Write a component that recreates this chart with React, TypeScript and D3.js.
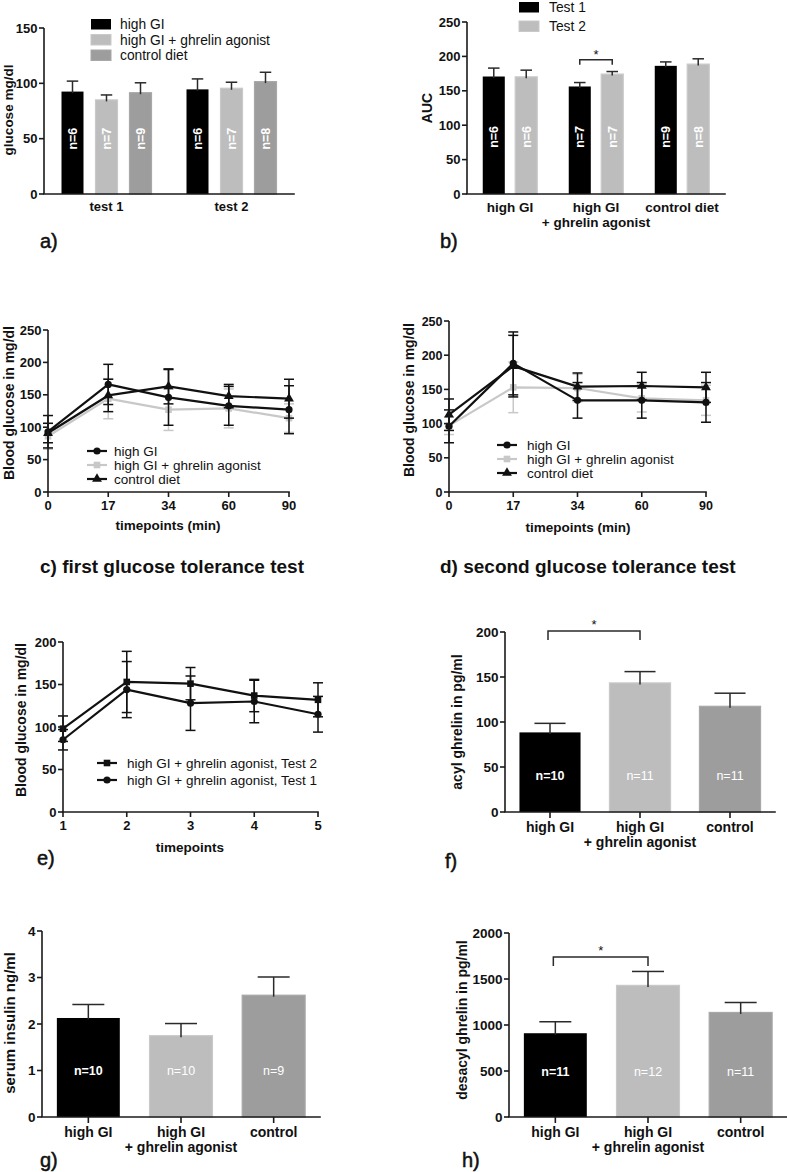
import React from "react";
import * as d3 from "d3";

const FONT = "'Liberation Sans', Arial, Helvetica, sans-serif";
const BLACK = "#000000";
const LIGHT = "#bdbdbd";
const MID = "#9d9d9d";
const LINE_GREY = "#c8c8c8";
const AXIS = "#1a1a1a";

// ---------- Panel a ----------
const aGroups = ["test 1", "test 2"];
const aSeries = ["high GI", "high GI + ghrelin agonist", "control diet"];
const aHighGI = [93, 95];
const aHighGIErr = [9, 9];
const aHighGIN = [6, 6];
const aAgonist = [85.5, 96];
const aAgonistErr = [4, 5];
const aAgonistN = [7, 7];
const aControl = [92, 102];
const aControlErr = [8.5, 8];
const aControlN = [9, 8];
const aTicks = [0, 50, 100, 150];

// ---------- Panel b ----------
const bCategories = [["high GI"], ["high GI", "+ ghrelin agonist"], ["control diet"]];
const bSeries = ["Test 1", "Test 2"];
const bTest1 = [171.5, 157, 187];
const bTest1Err = [11.5, 5, 5];
const bTest1N = [6, 7, 9];
const bTest2 = [171, 175, 189.5];
const bTest2Err = [9, 3, 7];
const bTest2N = [6, 7, 8];
const bTicks = [0, 50, 100, 150, 200, 250];

// ---------- Panels c, d ----------
const timepoints = ["0", "17", "34", "60", "90"];
const gttSeries = ["high GI", "high GI + ghrelin agonist", "control diet"];
const cHighGI = [93, 166, 146, 133, 127];
const cHighGIErr = [25, 31, 43, 30, 37];
const cAgonist = [86, 144, 127, 129, 114];
const cAgonistErr = [20, 31, 32, 30, 22];
const cControl = [91, 149, 163, 148, 144];
const cControlErr = [15, 25, 27, 18, 30];

const dHighGI = [96, 188, 134, 134, 131];
const dHighGIErr = [24, 46, 26, 26, 29];
const dAgonist = [97, 153, 152, 137, 134];
const dAgonistErr = [13, 37, 20, 20, 22];
const dControl = [113, 184, 154, 155, 153];
const dControlErr = [23, 45, 20, 20, 22];
const gttTicks = [0, 50, 100, 150, 200, 250];

// ---------- Panel e ----------
const eTimepoints = ["1", "2", "3", "4", "5"];
const eSeries = ["high GI + ghrelin agonist, Test 2", "high GI + ghrelin agonist, Test 1"];
const eTest2 = [98, 153, 151, 137, 132];
const eTest2Err = [15, 36, 19, 19, 20];
const eTest1 = [85, 144, 128, 130, 115];
const eTest1Err = [12, 33, 32, 25, 21];
const eTicks = [0, 50, 100, 150, 200];

// ---------- Panels f, g, h ----------
const fghCategories = [["high GI"], ["high GI", "+ ghrelin agonist"], ["control"]];
const fValues = [89, 144, 118];
const fErr = [9.5, 12, 14];
const fN = [10, 11, 11];
const fTicks = [0, 50, 100, 150, 200];

const gValues = [2.14, 1.76, 2.63];
const gErr = [0.28, 0.25, 0.38];
const gN = [10, 10, 9];
const gTicks = [0, 1, 2, 3, 4];

const hValues = [916, 1436, 1142];
const hErr = [120, 146, 102];
const hN = [11, 12, 11];
const hTicks = [0, 500, 1000, 1500, 2000];

const barFills = [BLACK, LIGHT, MID];
const barStroke = (fill: string) => (fill === LIGHT ? "#c9c9c9" : fill === MID ? "#a8a8a8" : "none");

// ---------- helpers ----------
function YAxis({ scale, x, ticks, fontSize }: any) {
  const [d0, d1] = scale.domain();
  return (
    <g>
      <line x1={x} x2={x} y1={scale(d0)} y2={scale(d1)} stroke={AXIS} strokeWidth={1.6} />
      {ticks.map((t: number) => (
        <g key={t}>
          <line x1={x - 5} x2={x} y1={scale(t)} y2={scale(t)} stroke={AXIS} strokeWidth={1.6} />
          <text x={x - 6.5} y={scale(t)} dy="0.36em" textAnchor="end" fontSize={fontSize} fontWeight="bold" fill="#111">
            {t}
          </text>
        </g>
      ))}
    </g>
  );
}

function XLine({ x1, x2, y }: any) {
  return <line x1={x1} x2={x2} y1={y} y2={y} stroke={AXIS} strokeWidth={1.6} strokeLinecap="square" />;
}

function YTitle({ x, y, text, fontSize }: any) {
  return (
    <text transform={`translate(${x},${y}) rotate(-90)`} textAnchor="middle" fontSize={fontSize} fontWeight="bold" fill="#111">
      {text}
    </text>
  );
}

function PanelLabel({ x, y, text, bold }: any) {
  return (
    <text x={x} y={y} fontSize={bold ? 19 : 20} fontWeight={bold ? "bold" : "normal"} fill="#111" stroke={bold ? "none" : "#111"} strokeWidth={bold ? 0 : 0.5}>
      {text}
    </text>
  );
}

function Bar({ x, w, y0, y1, fill }: any) {
  const s = barStroke(fill);
  return <rect x={x + 0.5} y={y1 + 0.5} width={w - 1} height={y0 - y1 - 0.5} fill={fill} stroke={s} strokeWidth={s === "none" ? 0 : 1.2} />;
}

function UpErr({ cx, w, yv, ye }: any) {
  return (
    <g stroke="#2a2a2a" strokeWidth={1.5}>
      <line x1={cx} x2={cx} y1={yv + 2} y2={ye} />
      <line x1={cx - w / 4} x2={cx + w / 4} y1={ye} y2={ye} />
    </g>
  );
}

function Marker({ kind, x, y, color }: any) {
  if (kind === "circle") return <circle cx={x} cy={y} r={3.6} fill={color} />;
  if (kind === "square") return <rect x={x - 3.3} y={y - 3.3} width={6.6} height={6.6} fill={color} />;
  const p = d3.symbol(d3.symbolTriangle, 42)();
  return <path d={p || ""} transform={`translate(${x},${y})`} fill={color} />;
}

function Bracket({ xa, xb, y, drop, starY }: any) {
  return (
    <g>
      <path d={`M${xa},${y + drop} V${y} H${xb} V${y + drop}`} fill="none" stroke="#2a2a2a" strokeWidth={1.5} />
      <text x={(xa + xb) / 2} y={starY} textAnchor="middle" fontSize={13} fill="#111">
        *
      </text>
    </g>
  );
}

// ---------- Panel a ----------
function PanelA() {
  const y = d3.scaleLinear().domain([0, 150]).range([194, 28]);
  const x0 = d3.scaleBand<string>().domain(aGroups).range([44, 294]);
  const x1 = d3.scaleBand<string>().domain(aSeries).range([17, 108]).paddingInner(0.3235);
  const series = [
    { name: aSeries[0], vals: aHighGI, errs: aHighGIErr, ns: aHighGIN, fill: BLACK },
    { name: aSeries[1], vals: aAgonist, errs: aAgonistErr, ns: aAgonistN, fill: LIGHT },
    { name: aSeries[2], vals: aControl, errs: aControlErr, ns: aControlN, fill: MID },
  ];
  const w = x1.bandwidth();
  return (
    <g>
      {aGroups.map((g, gi) =>
        series.map((s) => {
          const bx = (x0(g) as number) + (x1(s.name) as number);
          const cx = bx + w / 2;
          return (
            <g key={g + s.name}>
              <Bar x={bx} w={w} y0={y(0)} y1={y(s.vals[gi])} fill={s.fill} />
              <UpErr cx={cx} w={w} yv={y(s.vals[gi])} ye={y(s.vals[gi] + s.errs[gi])} />
              <text transform={`translate(${cx},${y(50)}) rotate(-90)`} textAnchor="middle" dy="0.36em" fontSize={12.5} fontWeight="bold" fill="#fff">
                {`n=${s.ns[gi]}`}
              </text>
            </g>
          );
        })
      )}
      <YAxis scale={y} x={44} ticks={aTicks} fontSize={13} />
      <XLine x1={44} x2={294} y={194} />
      {aGroups.map((g) => (
        <text key={g} x={(x0(g) as number) + x0.bandwidth() / 2} y={211} textAnchor="middle" fontSize={13} fontWeight="bold" fill="#111">
          {g}
        </text>
      ))}
      {series.map((s, i) => (
        <g key={s.name}>
          <rect x={91} y={19 + i * 15.5} width={20} height={10.5} fill={s.fill} stroke={barStroke(s.fill)} />
          <text x={120} y={24.3 + i * 15.5} dy="0.36em" fontSize={13.8} fill="#111">
            {s.name}
          </text>
        </g>
      ))}
      <YTitle x={13} y={110} text="glucose mg/dl" fontSize={13.5} />
      <PanelLabel x={40} y={248} text="a)" />
    </g>
  );
}

// ---------- Panel b ----------
function PanelB() {
  const y = d3.scaleLinear().domain([0, 250]).range([194, 22]);
  const keys = bCategories.map((c) => c.join(" "));
  const x0 = d3.scaleBand<string>().domain(keys).range([467, 725]);
  const x1 = d3.scaleBand<string>().domain(bSeries).range([15.25, 70.75]).paddingInner(0.29);
  const series = [
    { name: bSeries[0], vals: bTest1, errs: bTest1Err, ns: bTest1N, fill: BLACK },
    { name: bSeries[1], vals: bTest2, errs: bTest2Err, ns: bTest2N, fill: LIGHT },
  ];
  const w = x1.bandwidth();
  const cxOf = (ci: number, si: number) => (x0(keys[ci]) as number) + (x1(bSeries[si]) as number) + w / 2;
  return (
    <g>
      {keys.map((k, ci) =>
        series.map((s, si) => {
          const cx = cxOf(ci, si);
          return (
            <g key={k + s.name}>
              <Bar x={cx - w / 2} w={w} y0={y(0)} y1={y(s.vals[ci])} fill={s.fill} />
              <UpErr cx={cx} w={w} yv={y(s.vals[ci])} ye={y(s.vals[ci] + s.errs[ci])} />
              <text transform={`translate(${cx},${y(83)}) rotate(-90)`} textAnchor="middle" dy="0.36em" fontSize={12.5} fontWeight="bold" fill="#fff">
                {`n=${s.ns[ci]}`}
              </text>
            </g>
          );
        })
      )}
      <YAxis scale={y} x={467} ticks={bTicks} fontSize={13} />
      <XLine x1={467} x2={725} y={194} />
      {bCategories.map((lines, ci) => (
        <text key={ci} x={(x0(keys[ci]) as number) + x0.bandwidth() / 2} y={212} textAnchor="middle" fontSize={13.5} fontWeight="bold" fill="#111">
          {lines.map((l, li) => (
            <tspan key={li} x={(x0(keys[ci]) as number) + x0.bandwidth() / 2} dy={li === 0 ? 0 : 15}>
              {l}
            </tspan>
          ))}
        </text>
      ))}
      <Bracket xa={cxOf(1, 0)} xb={cxOf(1, 1)} y={y(195)} drop={5} starY={y(195) - 0.5} />
      {series.map((s, i) => (
        <g key={s.name}>
          <rect x={519} y={2 + i * 19} width={20} height={10.5} fill={s.fill} stroke={barStroke(s.fill)} />
          <text x={549} y={7.3 + i * 19} dy="0.36em" fontSize={13.8} fill="#111">
            {s.name}
          </text>
        </g>
      ))}
      <YTitle x={432} y={108} text="AUC" fontSize={14} />
      <PanelLabel x={440} y={248} text="b)" />
    </g>
  );
}

// ---------- Line panels ----------
function LinePanel({ cats, xRange, yDomain, yRange, ticks, series, legend, yTitle, xTitle, tickFont }: any) {
  const x = d3.scalePoint<string>().domain(cats).range(xRange);
  const y = d3.scaleLinear().domain(yDomain).range(yRange);
  const line = d3
    .line<number>()
    .x((_, i) => x(cats[i]) as number)
    .y((v) => y(v));
  return (
    <g>
      {series.map((s: any) => (
        <g key={s.name}>
          <path d={line(s.vals) || ""} fill="none" stroke={s.color} strokeWidth={2.2} strokeLinejoin="round" />
          {s.vals.map((v: number, i: number) => {
            const cx = x(cats[i]) as number;
            return (
              <g key={i} stroke={s.color} strokeWidth={1.5}>
                <line x1={cx} x2={cx} y1={y(v - s.errs[i])} y2={y(v + s.errs[i])} />
                <line x1={cx - 5} x2={cx + 5} y1={y(v + s.errs[i])} y2={y(v + s.errs[i])} />
                <line x1={cx - 5} x2={cx + 5} y1={y(v - s.errs[i])} y2={y(v - s.errs[i])} />
              </g>
            );
          })}
          {s.vals.map((v: number, i: number) => (
            <Marker key={"m" + i} kind={s.marker} x={x(cats[i]) as number} y={y(v)} color={s.color} />
          ))}
        </g>
      ))}
      <YAxis scale={y} x={xRange[0]} ticks={ticks} fontSize={tickFont} />
      <XLine x1={xRange[0]} x2={xRange[1]} y={yRange[0]} />
      {cats.map((c: string) => (
        <g key={c}>
          <line x1={x(c) as number} x2={x(c) as number} y1={yRange[0]} y2={yRange[0] + 5} stroke={AXIS} strokeWidth={1.6} />
          <text x={x(c) as number} y={yRange[0] + 18} textAnchor="middle" fontSize={tickFont} fontWeight="bold" fill="#111">
            {c}
          </text>
        </g>
      ))}
      <text x={xTitle.x} y={xTitle.y} textAnchor="middle" fontSize={13.5} fontWeight="bold" fill="#111">
        {xTitle.text}
      </text>
      <YTitle x={yTitle.x} y={yTitle.y} text={yTitle.text} fontSize={14} />
      {legend.order.map((si: number, i: number) => {
        const s = series[si];
        const ly = legend.y0 + i * legend.dy;
        return (
          <g key={"l" + i}>
            <line x1={legend.x} x2={legend.x + 20} y1={ly} y2={ly} stroke={s.color} strokeWidth={2.2} />
            <Marker kind={s.marker} x={legend.x + 10} y={ly} color={s.color} />
            <text x={legend.tx} y={ly} dy="0.36em" fontSize={13.5} fill="#111">
              {s.name}
            </text>
          </g>
        );
      })}
    </g>
  );
}

function PanelC() {
  const series = [
    { name: gttSeries[1], vals: cAgonist, errs: cAgonistErr, color: LINE_GREY, marker: "square" },
    { name: gttSeries[0], vals: cHighGI, errs: cHighGIErr, color: "#111", marker: "circle" },
    { name: gttSeries[2], vals: cControl, errs: cControlErr, color: "#111", marker: "triangle" },
  ];
  return (
    <g>
      <LinePanel
        cats={timepoints}
        xRange={[48, 289]}
        yDomain={[0, 250]}
        yRange={[492, 330]}
        ticks={gttTicks}
        series={series}
        tickFont={13}
        legend={{ order: [1, 0, 2], x: 87, tx: 114, y0: 451, dy: 14 }}
        yTitle={{ x: 14, y: 403, text: "Blood glucose in mg/dl" }}
        xTitle={{ x: 168, y: 530, text: "timepoints (min)" }}
      />
      <PanelLabel x={40} y={573} text="c) first glucose tolerance test" bold />
    </g>
  );
}

function PanelD() {
  const series = [
    { name: gttSeries[1], vals: dAgonist, errs: dAgonistErr, color: LINE_GREY, marker: "square" },
    { name: gttSeries[0], vals: dHighGI, errs: dHighGIErr, color: "#111", marker: "circle" },
    { name: gttSeries[2], vals: dControl, errs: dControlErr, color: "#111", marker: "triangle" },
  ];
  return (
    <g>
      <LinePanel
        cats={timepoints}
        xRange={[449, 706]}
        yDomain={[0, 250]}
        yRange={[492, 321]}
        ticks={gttTicks}
        series={series}
        tickFont={12.5}
        legend={{ order: [1, 0, 2], x: 497, tx: 527, y0: 445, dy: 14 }}
        yTitle={{ x: 414, y: 400, text: "Blood glucose in mg/dl" }}
        xTitle={{ x: 578, y: 532, text: "timepoints (min)" }}
      />
      <PanelLabel x={440} y={573} text="d) second glucose tolerance test" bold />
    </g>
  );
}

function PanelE() {
  const series = [
    { name: eSeries[1], vals: eTest1, errs: eTest1Err, color: "#111", marker: "circle" },
    { name: eSeries[0], vals: eTest2, errs: eTest2Err, color: "#111", marker: "square" },
  ];
  return (
    <g>
      <LinePanel
        cats={eTimepoints}
        xRange={[63, 318]}
        yDomain={[0, 200]}
        yRange={[812, 642]}
        ticks={eTicks}
        series={series}
        tickFont={13}
        legend={{ order: [1, 0], x: 97, tx: 127, y0: 763, dy: 17 }}
        yTitle={{ x: 26, y: 720, text: "Blood glucose in mg/dl" }}
        xTitle={{ x: 190, y: 852, text: "timepoints" }}
      />
      <PanelLabel x={37} y={865} text="e)" />
    </g>
  );
}

// ---------- simple bar panels ----------
function SimpleBars({ xRange, yDomain, yRange, ticks, values, errs, ns, nAt, yTitle, titleFont, label, bracket }: any) {
  const keys = fghCategories.map((c) => c.join(" "));
  const x = d3.scaleBand<string>().domain(keys).range(xRange).paddingInner(0.31).paddingOuter(0.155);
  const y = d3.scaleLinear().domain(yDomain).range(yRange);
  const w = x.bandwidth();
  const cxOf = (i: number) => (x(keys[i]) as number) + w / 2;
  return (
    <g>
      {keys.map((k, i) => {
        const cx = cxOf(i);
        return (
          <g key={k}>
            <Bar x={cx - w / 2} w={w} y0={y(yDomain[0])} y1={y(values[i])} fill={barFills[i]} />
            <UpErr cx={cx} w={w} yv={y(values[i])} ye={y(values[i] + errs[i])} />
            <text x={cx} y={y(nAt)} dy="0.36em" textAnchor="middle" fontSize={12.5} fontWeight={i === 0 ? "bold" : "normal"} fill="#fff">
              {`n=${ns[i]}`}
            </text>
          </g>
        );
      })}
      <YAxis scale={y} x={xRange[0]} ticks={ticks} fontSize={13.5} />
      <XLine x1={xRange[0]} x2={xRange[1]} y={yRange[0]} />
      {keys.map((k, i) => (
        <g key={"t" + k}>
          <line x1={cxOf(i)} x2={cxOf(i)} y1={yRange[0]} y2={yRange[0] + 6} stroke={AXIS} strokeWidth={1.6} />
          <text x={cxOf(i)} y={yRange[0] + 20} textAnchor="middle" fontSize={14} fontWeight="bold" fill="#111">
            {fghCategories[i].map((l, li) => (
              <tspan key={li} x={cxOf(i)} dy={li === 0 ? 0 : 15}>
                {l}
              </tspan>
            ))}
          </text>
        </g>
      ))}
      {bracket && <Bracket xa={cxOf(0) - 2} xb={cxOf(1)} y={y(bracket.at)} drop={9} starY={y(bracket.at) - 2} />}
      <YTitle x={yTitle.x} y={yTitle.y} text={yTitle.text} fontSize={titleFont} />
      <PanelLabel x={label.x} y={label.y} text={label.text} />
    </g>
  );
}

export default function App() {
  return (
    <svg width={787} height={1172} style={{ position: "absolute", left: 0, top: 0, display: "block" }} fontFamily={FONT}>
      <rect width={787} height={1172} fill="#ffffff" />
      <PanelA />
      <PanelB />
      <PanelC />
      <PanelD />
      <PanelE />
      <SimpleBars
        xRange={[505, 775]}
        yDomain={[0, 200]}
        yRange={[812, 632]}
        ticks={fTicks}
        values={fValues}
        errs={fErr}
        ns={fN}
        nAt={41}
        titleFont={14}
        yTitle={{ x: 462, y: 722, text: "acyl ghrelin in pg/ml" }}
        label={{ x: 445, y: 868, text: "f)" }}
        bracket={{ at: 201 }}
      />
      <SimpleBars
        xRange={[42, 320]}
        yDomain={[0, 4]}
        yRange={[1117, 931]}
        ticks={gTicks}
        values={gValues}
        errs={gErr}
        ns={gN}
        nAt={1}
        titleFont={15}
        yTitle={{ x: 15, y: 1023, text: "serum insulin ng/ml" }}
        label={{ x: 40, y: 1167, text: "g)" }}
      />
      <SimpleBars
        xRange={[509, 787]}
        yDomain={[0, 2000]}
        yRange={[1117, 933]}
        ticks={hTicks}
        values={hValues}
        errs={hErr}
        ns={hN}
        nAt={500}
        titleFont={14}
        yTitle={{ x: 467, y: 1020, text: "desacyl ghrelin in pg/ml" }}
        label={{ x: 462, y: 1167, text: "h)" }}
        bracket={{ at: 1739 }}
      />
    </svg>
  );
}
